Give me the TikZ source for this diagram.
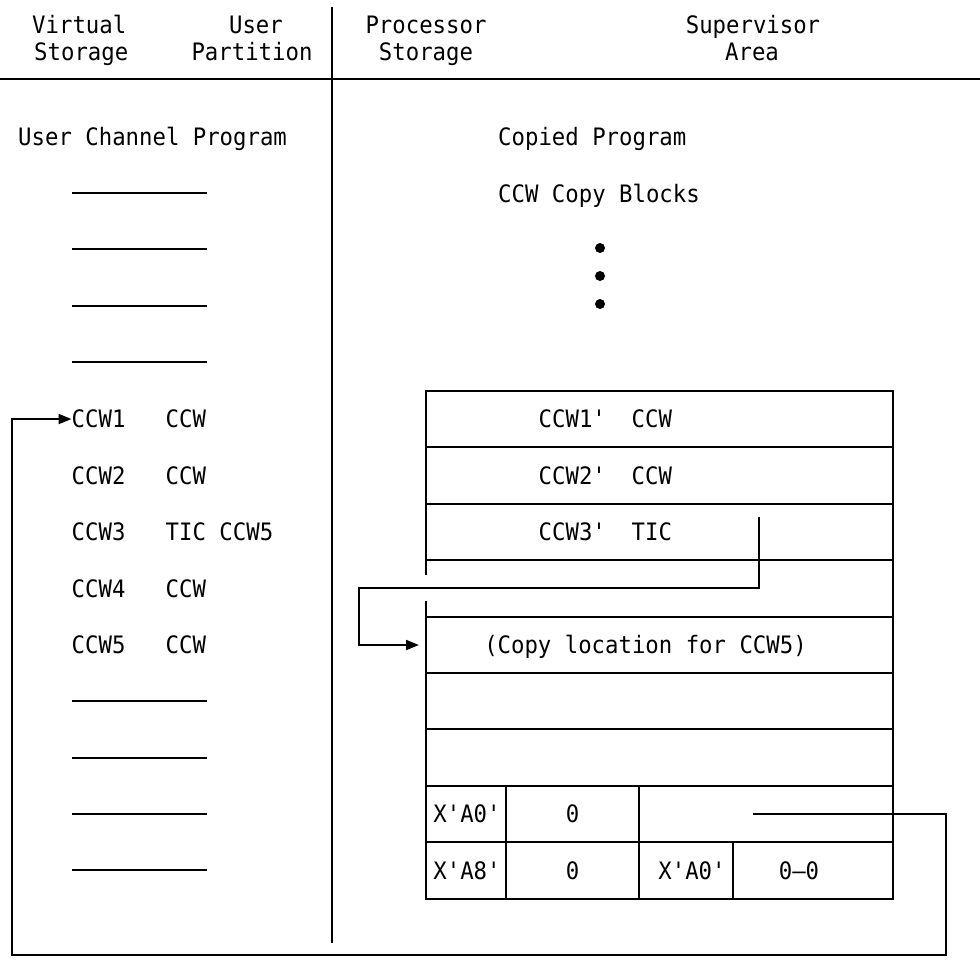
\documentclass[tikz,border=0pt]{standalone}
\usepackage{fontspec}
\newfontfamily\monof[FakeStretch=0.93,Ligatures=TeXOff]{DejaVu Sans Mono}
\usetikzlibrary{arrows.meta}
\begin{document}
\begin{tikzpicture}[x=1pt,y=-1pt,
  txt/.style={inner sep=0pt, font=\monof\fontsize{24}{27}\selectfont},
  ln/.style={line width=2pt, line cap=rect},
  arr/.style={line width=2pt, -{Triangle[length=13pt,width=10pt]}},
  bullet/.style={circle, fill=black, inner sep=0pt, minimum size=10pt}]
\fill[white] (0,0) rectangle (980,962);
\useasboundingbox (0,0) rectangle (980,962);

% header
\node[txt, anchor=base west] (vs1) at (32,33) {Virtual};
\node[txt, anchor=base west] (vs2) at (34,60) {Storage};
\node[txt, anchor=base] (up1) at (256,33) {User};
\node[txt, anchor=base] (up2) at (252,60) {Partition};
\node[txt, anchor=base] (ps1) at (426,33) {Processor};
\node[txt, anchor=base] (ps2) at (426,60) {Storage};
\node[txt, anchor=base] (sa1) at (753,33) {Supervisor};
\node[txt, anchor=base] (sa2) at (752,60) {Area};
\draw[ln] (0,79) -- (980,79);
\draw[ln] (332,8) -- (332,942);

% left column
\node[txt, anchor=base west] (ucp) at (18,145.9) {User Channel Program};
\foreach \y in {193,249,306,362,701,758,814,870}
  \draw[ln] (73,\y) -- (206,\y);
\node[txt, anchor=base west] (c1a) at (71.5,427.75) {CCW1};
\node[txt, anchor=base west] (c1b) at (165.5,427.75) {CCW};
\node[txt, anchor=base west] (c2a) at (71.5,484.3) {CCW2};
\node[txt, anchor=base west] (c2b) at (165.5,484.3) {CCW};
\node[txt, anchor=base west] (c3a) at (71.5,540.7) {CCW3};
\node[txt, anchor=base west] (c3b) at (165.5,540.7) {TIC CCW5};
\node[txt, anchor=base west] (c4a) at (71.5,597.1) {CCW4};
\node[txt, anchor=base west] (c4b) at (165.5,597.1) {CCW};
\node[txt, anchor=base west] (c5a) at (71.5,653.5) {CCW5};
\node[txt, anchor=base west] (c5b) at (165.5,653.5) {CCW};

% right column
\node[txt, anchor=base west] (cp) at (498,145.9) {Copied Program};
\node[txt, anchor=base west] (cb) at (498,202.3) {CCW Copy Blocks};
\node[bullet] (d1) at (600,248) {};
\node[bullet] (d2) at (600,276) {};
\node[bullet] (d3) at (600,304) {};

% copy block box
\foreach \y in {391,447,504,560,617,673,729,786,842,899}
  \draw[ln] (426,\y) -- (893,\y);
\draw[ln] (893,391) -- (893,899);
\draw[ln] (426,391) -- (426,574);
\draw[ln] (426,602) -- (426,899);
\draw[ln] (506,786) -- (506,899);
\draw[ln] (639,786) -- (639,899);
\draw[ln] (733,842) -- (733,899);

\node[txt, anchor=base west] (r1a) at (538.5,427.9) {CCW1'};
\node[txt, anchor=base west] (r1b) at (631.5,427.9) {CCW};
\node[txt, anchor=base west] (r2a) at (538.5,484.3) {CCW2'};
\node[txt, anchor=base west] (r2b) at (631.5,484.3) {CCW};
\node[txt, anchor=base west] (r3a) at (538.5,540.7) {CCW3'};
\node[txt, anchor=base west] (r3b) at (631.5,540.7) {TIC};
\node[txt, anchor=base] (copy5) at (645.5,653.5) {(Copy location for CCW5)};
\node[txt, anchor=base] (x1) at (467,822.7) {X'A0'};
\node[txt, anchor=base] (z1) at (572.5,822.7) {0};
\node[txt, anchor=base] (x2) at (467,879.1) {X'A8'};
\node[txt, anchor=base] (z2) at (572.5,879.1) {0};
\node[txt, anchor=base] (x3) at (692,879.1) {X'A0'};
\node[txt, anchor=base] (zz) at (799,879.1) {0—0};

% connectors
\coordinate (ticA) at (759,517);
\coordinate (ticB) at (359,588);
\coordinate (copyin) at (419,645);
\draw[arr] (ticA) |- (ticB) |- (copyin);

\coordinate (loopA) at (753,814);
\coordinate (loopB) at (946,955);
\coordinate (loopC) at (12,955);
\draw[arr] (loopA) -| (loopB) -- (loopC) |- (c1a.west);
\end{tikzpicture}
\end{document}
